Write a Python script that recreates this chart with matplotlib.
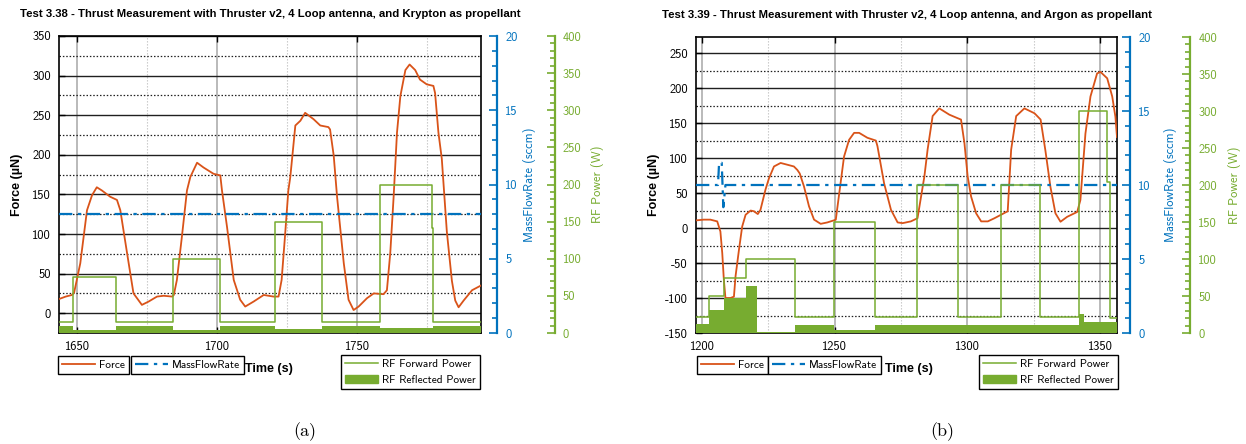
import numpy as np
import matplotlib.pyplot as plt
from matplotlib.ticker import MultipleLocator
from matplotlib.lines import Line2D
from matplotlib.patches import Patch

plt.rcParams['font.family'] = ['cmss10', 'DejaVu Sans']
plt.rcParams['axes.unicode_minus'] = False
plt.rcParams['mathtext.fontset'] = 'cm'

# ── Colours (MATLAB default palette) ──
ORANGE = "#D95319"
BLUE = "#0072BD"
GREEN = "#77AC30"
BOLD = dict(family=['Liberation Sans', 'DejaVu Sans'], weight='bold')

# ── Test 3.38 (Krypton) ──
kr_title = "Test 3.38 - Thrust Measurement with Thruster v2, 4 Loop antenna, and Krypton as propellant"
kr_t_force = [1643.7, 1646.0, 1648.2, 1649.0, 1651.2, 1653.6, 1655.4, 1657.1, 1658.9, 1661.9,
              1664.3, 1665.5, 1667.9, 1670.2, 1673.2, 1675.6, 1678.6, 1681.0, 1684.0, 1684.6,
              1685.7, 1687.5, 1689.3, 1690.5, 1692.9, 1695.2, 1698.8, 1701.2, 1701.8, 1703.6,
              1706.0, 1708.3, 1710.1, 1713.1, 1716.7, 1720.2, 1722.0, 1723.1, 1724.3, 1725.5,
              1726.2, 1728.0, 1729.8, 1731.5, 1734.5, 1736.9, 1739.8, 1740.4, 1741.7, 1742.9,
              1745.3, 1747.0, 1748.8, 1750.6, 1753.6, 1756.0, 1759.5, 1760.7, 1761.9, 1763.1,
              1764.3, 1765.5, 1767.3, 1768.8, 1770.8, 1772.5, 1774.9, 1777.3, 1777.9, 1779.1,
              1780.3, 1782.1, 1783.9, 1785.1, 1786.3, 1788.1, 1791.1, 1794.3]
kr_force = [18, 21, 23, 26, 63, 130, 149, 159, 155, 147,
            143, 130, 76, 25, 10.5, 14.7, 21, 22, 21, 23,
            42, 97, 155, 172, 190, 184, 176, 174, 155, 109,
            42, 17, 8.4, 14.7, 23, 21, 21, 42, 97, 155,
            172, 237, 243, 253, 245, 237, 235, 232, 199, 147,
            63, 17, 4, 8.4, 19, 25, 24, 29, 76, 147,
            228, 274, 307, 314, 307, 295, 289, 287, 278, 228,
            195, 103, 41, 16, 7.5, 16, 29, 35]
kr_t_fwd = [1643.6, 1648.6, 1663.9, 1684.4, 1701.2, 1720.6, 1737.5, 1758.3, 1776.7, 1777.3, 1794.3]
kr_fwd = [15, 75, 15, 100, 15, 150, 15, 200, 141, 15, 15]
kr_t_refl = [1643.6, 1648.6, 1663.9, 1684.4, 1701.2, 1720.6, 1737.5, 1758.3, 1777.3, 1794.3]
kr_refl = [10, 4, 10, 4, 10, 5, 10, 7, 10, 10]
kr_t_mf = [1643.6, 1794.3]
kr_mf = [8, 8]

# ── Test 3.39 (Argon) ──
ar_title = "Test 3.39 - Thrust Measurement with Thruster v2, 4 Loop antenna, and Argon as propellant"
ar_t_force = [1197.9, 1200.6, 1203.1, 1205.7, 1206.9, 1207.6, 1208.2, 1208.8, 1210.7, 1212.0,
              1212.6, 1213.9, 1215.1, 1216.4, 1218.3, 1219.5, 1221.0, 1222.0, 1223.9, 1225.2,
              1227.1, 1229.6, 1232.1, 1234.6, 1235.9, 1236.8, 1238.4, 1240.3, 1242.2, 1244.7,
              1247.2, 1249.7, 1250.4, 1253.5, 1255.4, 1257.3, 1259.2, 1262.3, 1265.5, 1266.1,
              1268.6, 1271.2, 1273.7, 1275.6, 1278.7, 1281.2, 1283.8, 1285.0, 1286.9, 1289.4,
              1293.2, 1296.3, 1297.6, 1298.9, 1300.1, 1301.4, 1303.3, 1305.2, 1307.7, 1310.2,
              1312.7, 1315.2, 1316.5, 1318.4, 1321.5, 1325.3, 1327.6, 1329.4, 1331.3, 1333.2,
              1335.1, 1337.6, 1341.4, 1342.6, 1344.5, 1346.4, 1348.9, 1350.2, 1352.7, 1354.6,
              1355.8, 1356.4]
ar_force = [11, 12, 12, 9.5, -5, -36, -74, -100, -100, -98,
            -69, -31, 2, 19, 25, 24, 20, 26, 55, 71,
            88, 93, 90.5, 88, 83, 78, 59.5, 31, 12, 6,
            8, 11, 12, 102, 126, 136, 136, 129, 125, 117,
            64, 26, 8, 7, 9.5, 14, 74, 112, 160, 171,
            162, 157, 155, 121, 74, 45, 21, 9.5, 9.5, 14,
            19, 24, 112, 160, 171, 164, 155, 111, 59, 21,
            9, 16, 23, 40, 135, 188, 221, 223, 214, 188,
            159, 130]
ar_t_fwd = [1197.7, 1202.5, 1208.4, 1216.4, 1235.0, 1249.7, 1265.1, 1281.0, 1296.6,
            1312.7, 1327.2, 1342.0, 1352.7, 1353.6, 1356.4]
ar_fwd = [21, 50, 75, 100, 21, 150, 21, 200, 21, 200, 21, 300, 204, 20, 20]
ar_t_refl = [1197.7, 1202.5, 1208.4, 1216.4, 1220.8, 1235.0, 1249.7, 1265.1, 1342.0, 1344.0, 1356.4]
ar_refl = [12, 31, 47, 63, 1, 11, 4, 11, 26, 15, 15]
ar_t_mf = [1197.7, 1206.0, 1206.4, 1207.4, 1208.0, 1208.8, 1356.4]
ar_mf = [10, 10, 11.5, 11.5, 8.5, 10, 10]

W, H = 1246, 444


def box(l, t, r, b):
    return [l / W, 1 - b / H, (r - l) / W, (b - t) / H]


def extra_axis(ax, offset, color, top, major, minor, label, label_x):
    tw = ax.twinx()
    tw.set_ylim(0, top)
    tw.spines['right'].set_position(('outward', offset))
    for k in ('left', 'top', 'bottom'):
        tw.spines[k].set_visible(False)
    tw.spines['right'].set_color(color)
    tw.spines['right'].set_linewidth(1.6)
    tw.yaxis.set_major_locator(MultipleLocator(major))
    tw.yaxis.set_minor_locator(MultipleLocator(minor))
    tw.tick_params(which='both', direction='in', colors=color, labelsize=9, pad=6, width=1.2)
    tw.tick_params(which='major', length=6)
    tw.tick_params(which='minor', length=3.5)
    tw.set_ylabel(label, color=color, fontsize=9)
    tw.yaxis.set_label_coords(label_x, 0.5)
    tw.yaxis.label.set_va('center')
    return tw


def panel(rect, offs, title, xlim, ylim, xticks, yticks, t_force, force, t_fwd, fwd,
          t_refl, refl, t_mf, mf, leg, tag, tag_x):
    ax = fig.add_axes(box(*rect))
    ax.set_xlim(*xlim)
    ax.set_ylim(*ylim)
    ax.set_xticks(xticks)
    ax.set_yticks(yticks)
    ax.xaxis.set_minor_locator(MultipleLocator(25))
    ax.yaxis.set_minor_locator(MultipleLocator(25))
    ax.tick_params(which='major', direction='in', length=4, top=True, right=False,
                   labelsize=9, pad=6, width=1)
    ax.tick_params(which='minor', length=0)
    ax.grid(which='major', axis='y', color='#202020', lw=1.0, ls='-')
    ax.grid(which='minor', axis='y', color='#202020', lw=0.9, ls=(0, (1.2, 1.5)))
    ax.grid(which='major', axis='x', color='#b4b4b4', lw=1.3, ls='-')
    ax.grid(which='minor', axis='x', color='#c4c4c4', lw=0.8, ls=(0, (1.2, 1.5)))
    ax.set_axisbelow(True)
    for s in ax.spines.values():
        s.set_linewidth(1.2)
    ax.plot(t_force, force, color=ORANGE, lw=1.3, zorder=5)
    ax.set_title(title, fontsize=8.2, pad=14, **BOLD)
    ax.set_ylabel("Force (µN)", fontsize=9, **BOLD)
    ax.yaxis.set_label_coords(-0.1, 0.5)
    ax.yaxis.label.set_va('center')
    ax.set_xlabel("Time (s)", fontsize=9, **BOLD)
    ax.xaxis.set_label_coords(leg[3], -0.1)

    # mass flow axis and RF power axis
    ax2 = extra_axis(ax, offs[0], BLUE, 20, 5, 1, "MassFlowRate (sccm)", offs[2])
    ax2.plot(t_mf, mf, color=BLUE, lw=1.6, ls=(0, (6, 2.5, 1.5, 2.5)))
    ax3 = extra_axis(ax, offs[1], GREEN, 400, 50, 10, "RF Power (W)", offs[3])
    ax3.fill_between(t_refl, 0, refl, step='post', color=GREEN, lw=0)
    ax3.plot(t_fwd, fwd, color=GREEN, lw=1.1, drawstyle='steps-post')

    # legends under the axes
    style = dict(frameon=True, fancybox=False, edgecolor='black', framealpha=1,
                 borderaxespad=0, fontsize=8.1, handlelength=2.9, handletextpad=0.4,
                 borderpad=0.35, labelspacing=0.55)
    l1 = fig.legend([Line2D([], [], color=ORANGE, lw=1.3)], ["Force"], loc='upper left',
                    bbox_to_anchor=(leg[0] / W, 1 - 356 / H), **style)
    l1.get_frame().set_linewidth(1.0)
    l2 = fig.legend([Line2D([], [], color=BLUE, lw=1.6, ls=(0, (6, 2.5, 1.5, 2.5)))],
                    ["MassFlowRate"], loc='upper left',
                    bbox_to_anchor=(leg[1] / W, 1 - 356 / H), **style)
    l2.get_frame().set_linewidth(1.0)
    l3 = fig.legend([Line2D([], [], color=GREEN, lw=1.1), Patch(color=GREEN)],
                    ["RF Forward Power", "RF Reflected Power"], loc='upper right',
                    bbox_to_anchor=(leg[2] / W, 1 - 355 / H), **style)
    l3.get_frame().set_linewidth(1.0)

    fig.text(tag_x / W, 1 - 432 / H, tag, family='cmr10', fontsize=13,
             ha='center', va='center')
    return ax


fig = plt.figure(figsize=(W / 100, H / 100), dpi=100)

# offs: massflow offset (pt), rf offset (pt), massflow label x, rf label x (axes fraction)
# leg: force legend x, massflow legend x, rf legend right x (px), xlabel x (axes fraction)
panel((59, 36, 481, 333), (11.5, 53, 1.116, 1.275), kr_title, (1643.6, 1794.3), (-25, 350),
      [1650, 1700, 1750], np.arange(0, 351, 50),
      kr_t_force, kr_force, kr_t_fwd, kr_fwd, kr_t_refl, kr_refl, kr_t_mf, kr_mf,
      (58, 131, 480, 0.497), "(a)", 305)
panel((696, 37, 1117, 333), (9.4, 52.6, 1.126, 1.28), ar_title, (1197.7, 1356.4), (-150, 273),
      [1200, 1250, 1300, 1350], np.arange(-150, 251, 50),
      ar_t_force, ar_force, ar_t_fwd, ar_fwd, ar_t_refl, ar_refl, ar_t_mf, ar_mf,
      (697, 768, 1118, 0.505), "(b)", 942)

fig.savefig("out.png", dpi=100)
